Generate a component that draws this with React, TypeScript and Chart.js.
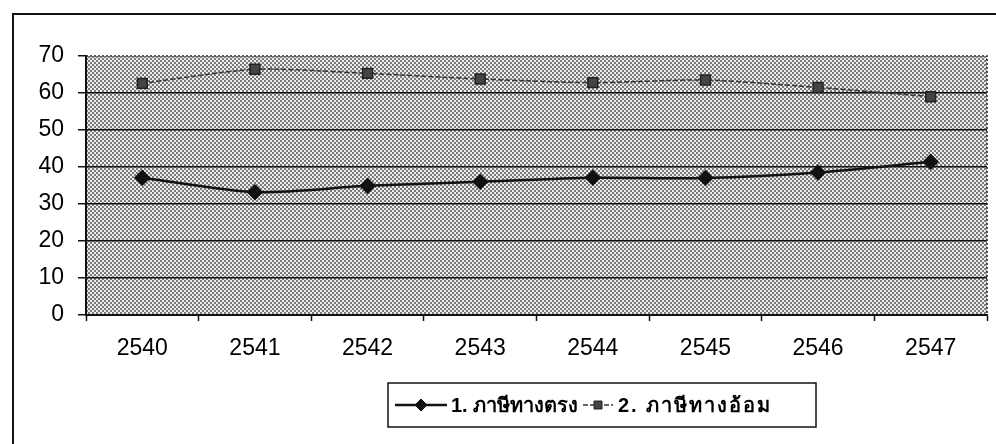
import React, { useEffect, useRef } from "react";
import { Chart, registerables } from "chart.js";

Chart.register(...registerables);

const categories = ["2540", "2541", "2542", "2543", "2544", "2545", "2546", "2547"];
const directTax = [37.1, 33.2, 34.9, 36.0, 37.1, 37.0, 38.5, 41.4];
const indirectTax = [62.6, 66.4, 65.3, 63.8, 62.8, 63.5, 61.5, 59.0];
const seriesLabels = ["1. ภาษีทางตรง", "2. ภาษีทางอ้อม"];
const yTicks = [0, 10, 20, 30, 40, 50, 60, 70];

const FONT = "'Liberation Sans', Arial, 'DejaVu Sans', sans-serif";

// legend item layout: [lineStart, lineEnd, textStart, textWidth]
const legendLayout = [
  [395, 447, 451, 123],
  [583, 613, 618, 184],
];

const decorPlugin = {
  id: "decor",
  beforeDraw(chart: any) {
    const { ctx, chartArea: a } = chart;
    ctx.save();
    ctx.fillStyle = "#ffffff";
    ctx.fillRect(0, 0, chart.width, chart.height);
    ctx.strokeStyle = "#111";
    ctx.lineWidth = 2;
    ctx.beginPath();
    ctx.moveTo(13, chart.height);
    ctx.lineTo(13, 14);
    ctx.lineTo(chart.width, 14);
    ctx.stroke();
    const tile = document.createElement("canvas");
    tile.width = 4;
    tile.height = 4;
    const t = tile.getContext("2d")!;
    t.fillStyle = "#ececec";
    t.fillRect(0, 0, 4, 4);
    t.fillStyle = "#7a7a7a";
    t.fillRect(0, 0, 2, 2);
    t.fillRect(2, 2, 2, 2);
    const pat = ctx.createPattern(tile, "repeat");
    ctx.fillStyle = pat;
    ctx.fillRect(a.left, a.top, a.right - a.left, a.bottom - a.top);
    ctx.restore();
  },
  beforeDatasetsDraw(chart: any) {
    const { ctx, chartArea: a } = chart;
    ctx.save();
    ctx.strokeStyle = "#222";
    ctx.lineWidth = 1.5;
    ctx.setLineDash([2, 2]);
    ctx.beginPath();
    ctx.moveTo(a.left, a.top);
    ctx.lineTo(a.right, a.top);
    ctx.lineTo(a.right, a.bottom);
    ctx.stroke();
    ctx.restore();
  },
  afterDraw(chart: any) {
    const { ctx } = chart;
    const box = { left: 388, top: 383, right: 816, bottom: 427 };
    ctx.save();
    ctx.fillStyle = "#fff";
    ctx.fillRect(box.left, box.top, box.right - box.left, box.bottom - box.top);
    ctx.strokeStyle = "#111";
    ctx.lineWidth = 1.5;
    ctx.strokeRect(box.left, box.top, box.right - box.left, box.bottom - box.top);
    const cy = (box.top + box.bottom) / 2;
    ctx.textBaseline = "middle";
    chart.data.datasets.forEach((ds: any, i: number) => {
      const [l0, l1, tx, tw] = legendLayout[i];
      ctx.strokeStyle = ds.borderColor;
      ctx.lineWidth = ds.borderWidth;
      ctx.setLineDash(ds.borderDash || []);
      ctx.beginPath();
      ctx.moveTo(l0, cy);
      ctx.lineTo(l1, cy);
      ctx.stroke();
      ctx.setLineDash([]);
      const mx = (l0 + l1) / 2;
      ctx.fillStyle = ds.pointBackgroundColor;
      ctx.strokeStyle = ds.pointBorderColor;
      ctx.lineWidth = 1;
      ctx.beginPath();
      if (ds.pointStyle === "rectRot") {
        const r = 6;
        ctx.moveTo(mx, cy - r);
        ctx.lineTo(mx + r, cy);
        ctx.lineTo(mx, cy + r);
        ctx.lineTo(mx - r, cy);
        ctx.closePath();
      } else {
        const s = 4;
        ctx.rect(mx - s, cy - s, 2 * s, 2 * s);
      }
      ctx.fill();
      ctx.stroke();
      ctx.font = `bold 20px ${FONT}`;
      ctx.fillStyle = "#000";
      (ctx as any).letterSpacing = "0px";
      const w = ctx.measureText(ds.label).width;
      const n = Array.from(ds.label as string).length;
      const sp = Math.min(2, Math.max(0, (tw - w) / n));
      (ctx as any).letterSpacing = `${sp.toFixed(2)}px`;
      ctx.fillText(ds.label, tx, cy + 1);
      (ctx as any).letterSpacing = "0px";
    });
    ctx.restore();
  },
};

export default function App() {
  const ref = useRef<HTMLCanvasElement | null>(null);
  useEffect(() => {
    if (!ref.current) return;
    const chart = new Chart(ref.current, {
      type: "line",
      data: {
        labels: categories,
        datasets: [
          {
            label: seriesLabels[0],
            data: directTax,
            borderColor: "#111",
            borderWidth: 2.5,
            pointStyle: "rectRot",
            pointRadius: 6.5,
            pointBackgroundColor: "#111",
            pointBorderColor: "#111",
            tension: 0.25,
          },
          {
            label: seriesLabels[1],
            data: indirectTax,
            borderColor: "#333",
            borderWidth: 1.5,
            borderDash: [5, 2],
            pointStyle: "rect",
            pointRadius: 7,
            pointBackgroundColor: "#444",
            pointBorderColor: "#222",
            tension: 0.25,
          },
        ],
      },
      options: {
        animation: false,
        responsive: true,
        maintainAspectRatio: false,
        layout: { padding: { top: 56, right: 6, left: 0, bottom: 0 } },
        plugins: { legend: { display: false }, tooltip: { enabled: false } },
        scales: {
          x: {
            offset: true,
            grid: {
              offset: true,
              drawOnChartArea: false,
              drawTicks: true,
              tickLength: 6,
              tickColor: "#111",
              tickWidth: 1.5,
            },
            border: { display: true, color: "#111", width: 2 },
            ticks: {
              color: "#000",
              font: { family: FONT, size: 23 },
              padding: 14,
              maxRotation: 0,
            },
            afterFit(scale: any) {
              scale.height = 129;
            },
          },
          y: {
            min: 0,
            max: 70,
            afterBuildTicks(scale: any) {
              scale.ticks = yTicks.map((v) => ({ value: v }));
            },
            grid: {
              color: (c: any) => (c.tick && c.tick.value === 70 ? "rgba(0,0,0,0)" : "#111"),
              lineWidth: 1.5,
              tickColor: "#111",
              tickLength: 8,
              tickWidth: 1.5,
            },
            border: { display: true, color: "#111", width: 2 },
            ticks: {
              color: "#000",
              font: { family: FONT, size: 23 },
              padding: 14,
            },
            afterFit(scale: any) {
              scale.width = 86;
            },
          },
        },
      },
      plugins: [decorPlugin],
    });
    return () => chart.destroy();
  }, []);
  return (
    <div style={{ position: "absolute", left: 0, top: 0, width: 996, height: 444 }}>
      <canvas ref={ref} />
    </div>
  );
}
